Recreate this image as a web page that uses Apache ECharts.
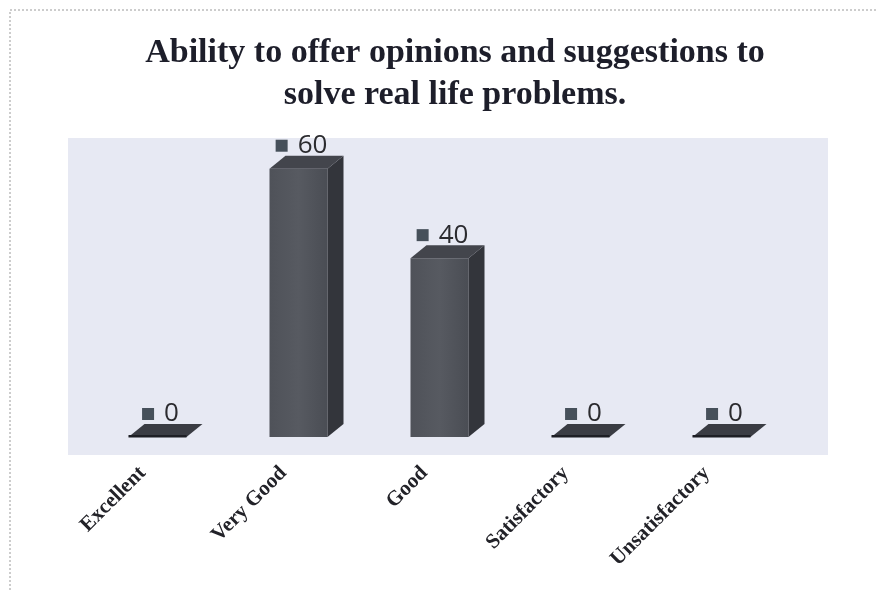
<!DOCTYPE html>
<html>
<head>
<meta charset="utf-8">
<script src="https://cdn.jsdelivr.net/npm/echarts@6/dist/echarts.min.js"></script>
<style>
  html, body { margin: 0; padding: 0; background: #ffffff; }
  #chart { width: 876px; height: 591px; }
</style>
</head>
<body>
<div id="chart"></div>
<script>
// Rating categories and the percentage of responses for each
const categories = ['Excellent', 'Very Good', 'Good', 'Satisfactory', 'Unsatisfactory'];
const values = [0, 60, 40, 0, 0];
const titleLines = ['Ability to offer opinions and suggestions to', 'solve real life problems.'];

const chart = echarts.init(document.getElementById('chart'), null, { renderer: 'canvas' });

// 3D box look: depth offset of the top/side faces
const DEPTH_X = 16;
const DEPTH_Y = -13;
const HALF_W = 29;
const FLOOR_SHIFT = 15;

function renderBox(params, api) {
  const idx = api.value(0);
  const v = api.value(1);
  const base = api.coord([idx, 0]);
  const top = api.coord([idx, v]);
  const cx = base[0] + FLOOR_SHIFT;
  const x0 = cx - HALF_W;
  const x1 = cx + HALF_W;
  const yb = base[1];
  const yt = top[1];
  const children = [];

  if (yb - yt > 0.5) {
    // front face
    children.push({
      type: 'rect',
      shape: { x: x0, y: yt, width: x1 - x0, height: yb - yt },
      style: {
        fill: new echarts.graphic.LinearGradient(0, 0, 1, 0, [
          { offset: 0, color: '#4f5259' },
          { offset: 0.5, color: '#575a61' },
          { offset: 1, color: '#4a4d54' }
        ])
      }
    });
    // right side face
    children.push({
      type: 'polygon',
      shape: { points: [[x1, yt], [x1 + DEPTH_X, yt + DEPTH_Y], [x1 + DEPTH_X, yb + DEPTH_Y], [x1, yb]] },
      style: { fill: '#33353b' }
    });
  }
  // top face
  children.push({
    type: 'polygon',
    shape: { points: [[x0, yt], [x1, yt], [x1 + DEPTH_X, yt + DEPTH_Y], [x0 + DEPTH_X, yt + DEPTH_Y]] },
    style: { fill: v > 0 ? '#43454c' : '#3a3c43' }
  });
  if (v === 0) {
    // thin front edge of an empty bar
    children.push({
      type: 'rect',
      shape: { x: x0, y: yb - 2, width: x1 - x0, height: 2.5 },
      style: { fill: '#1d1e24' }
    });
  }
  // value label with its small legend key
  children.push({
    type: 'text',
    style: {
      text: '{m|}   {v|' + v + '}',
      x: cx + 3,
      y: yt + DEPTH_Y + 3,
      align: 'center',
      verticalAlign: 'bottom',
      rich: {
        m: { width: 12, height: 12, backgroundColor: '#46505a', verticalAlign: 'middle' },
        v: { fontFamily: 'Open Sans', fontSize: 26, fill: '#2b2b2f', verticalAlign: 'middle' }
      }
    }
  });
  return { type: 'group', children: children };
}

chart.setOption({
  backgroundColor: '#ffffff',
  animation: false,
  title: {
    text: titleLines.join('\n'),
    left: 450,
    top: 27,
    textAlign: 'center',
    textStyle: {
      fontFamily: 'Liberation Serif',
      fontWeight: 'bold',
      fontSize: 34,
      lineHeight: 42,
      color: '#1d1e2a'
    }
  },
  graphic: [
    {
      type: 'rect',
      z: -10,
      shape: { x: 10, y: 10, width: 900, height: 700 },
      style: { fill: 'none', stroke: '#9a9a9a', lineWidth: 1, lineDash: [2, 2] }
    },
    {
      type: 'rect',
      z: -5,
      shape: { x: 68, y: 138, width: 760, height: 317 },
      style: { fill: '#e7e9f3' }
    }
  ],
  grid: { left: 72, right: 99, top: 124, bottom: 154, containLabel: false },
  xAxis: {
    type: 'category',
    data: categories,
    axisLine: { show: false },
    axisTick: { show: false },
    axisLabel: {
      rotate: 45,
      margin: 33,
      interval: 0,
      fontFamily: 'Liberation Serif',
      fontWeight: 'bold',
      fontSize: 21,
      color: '#222228'
    }
  },
  yAxis: {
    type: 'value',
    min: 0,
    max: 70,
    show: false
  },
  series: [{
    type: 'custom',
    renderItem: renderBox,
    data: values.map((v, i) => [i, v]),
    encode: { x: 0, y: 1 }
  }]
});
</script>
</body>
</html>
